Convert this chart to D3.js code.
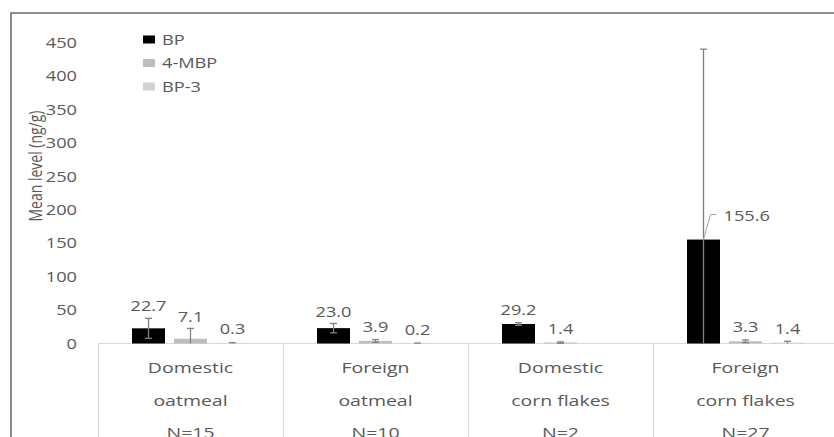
<!DOCTYPE html>
<html>
<head>
<meta charset="utf-8">
<script src="https://cdn.jsdelivr.net/npm/d3@7"></script>
<style>
  body { margin: 0; background: #fff; }
  text { font-family: "Open Sans", sans-serif; fill: #595959; }
</style>
</head>
<body>
<div id="chart"></div>
<script>
const categories = ["Domestic oatmeal", "Foreign oatmeal", "Domestic corn flakes", "Foreign corn flakes"];
const catLines = [["Domestic", "oatmeal", "N=15"], ["Foreign", "oatmeal", "N=10"],
                  ["Domestic", "corn flakes", "N=2"], ["Foreign", "corn flakes", "N=27"]];
const series = ["BP", "4-MBP", "BP-3"];
const bpValues = [22.7, 23.0, 29.2, 155.6];
const mbpValues = [7.1, 3.9, 1.4, 3.3];
const bp3Values = [0.3, 0.2, null, 1.4];
const bpErr = [15, 7, 2, 285];
const mbpErr = [15.5, 2, 1, 2];
const bp3Err = [1, 0.5, null, 2];
const yTicks = [0, 50, 100, 150, 200, 250, 300, 350, 400, 450];
const colors = ["#000000", "#bdbdbd", "#d2d2d2"];
const callout = { series: "BP", cat: "Foreign corn flakes" };

const width = 834, height = 437;
const sx = 1.3; // horizontal stretch of the text
const svg = d3.select("#chart").append("svg")
  .attr("width", width).attr("height", height);

const x0 = d3.scaleBand().domain(categories).range([98, 838]);
const x1 = d3.scaleBand().domain(series).range([0, x0.bandwidth()])
  .paddingInner(9 / 42).paddingOuter(0.81);
const y = d3.scaleLinear().domain([0, 450]).range([343.5, 42.9]);

function txt(g, x, yy, s, anchor, size, rot) {
  return g.append("text")
    .attr("transform", `translate(${x},${yy}) scale(${sx},1)` + (rot ? ` rotate(${rot})` : ""))
    .attr("text-anchor", anchor || "middle")
    .attr("dominant-baseline", "central")
    .style("font-size", (size || 14) + "px")
    .text(s);
}

// frame
svg.append("path").attr("d", `M11,${height} V13 H${width}`)
  .attr("fill", "none").attr("stroke", "#6b6b6b").attr("stroke-width", 1.6);

// y ticks
const yg = svg.append("g");
yTicks.forEach(t => txt(yg, 77, y(t), t, "end", 14));
txt(yg, 35, 166, "Mean level (ng/g)", "middle", 14, -90);

// category axis
const xg = svg.append("g");
xg.append("line").attr("x1", 98).attr("x2", width)
  .attr("y1", y(0)).attr("y2", y(0)).attr("stroke", "#d9d9d9");
categories.forEach((c, i) => {
  xg.append("line").attr("x1", x0(c) + 0.5).attr("x2", x0(c) + 0.5)
    .attr("y1", y(0)).attr("y2", height).attr("stroke", "#d9d9d9");
  catLines[i].forEach((l, j) => txt(xg, x0(c) + x0.bandwidth() / 2, 367 + j * 32.5, l, "middle", 15));
});

// data
const rows = [];
[bpValues, mbpValues, bp3Values].forEach((vals, si) => {
  const errs = [bpErr, mbpErr, bp3Err][si];
  vals.forEach((v, ci) => {
    if (v == null) return;
    rows.push({ s: series[si], si, cat: categories[ci], value: v, err: errs[ci] });
  });
});

const bars = svg.append("g");
bars.selectAll("rect").data(rows).join("rect")
  .attr("x", d => x0(d.cat) + x1(d.s))
  .attr("y", d => y(d.value))
  .attr("width", x1.bandwidth())
  .attr("height", d => y(0) - y(d.value))
  .attr("fill", d => colors[d.si]);

// error bars
const eg = svg.append("g").attr("stroke", "#808080").attr("stroke-width", 1.3);
rows.forEach(d => {
  const cx = x0(d.cat) + x1(d.s) + x1.bandwidth() / 2;
  const top = y(d.value + d.err), bot = y(Math.max(0, d.value - d.err));
  eg.append("line").attr("x1", cx).attr("x2", cx).attr("y1", top).attr("y2", bot);
  eg.append("line").attr("x1", cx - 3.5).attr("x2", cx + 3.5).attr("y1", top).attr("y2", top);
  if (d.value - d.err > 0)
    eg.append("line").attr("x1", cx - 3.5).attr("x2", cx + 3.5).attr("y1", bot).attr("y2", bot);
});

// value labels
const lg = svg.append("g");
rows.forEach(d => {
  const cx = x0(d.cat) + x1(d.s) + x1.bandwidth() / 2;
  if (d.s === callout.series && d.cat === callout.cat) {
    const ly = y(d.value) - 25;
    lg.append("path").attr("d", `M${cx},${y(d.value)} L${cx + 7},${ly} H${cx + 13}`)
      .attr("fill", "none").attr("stroke", "#a6a6a6");
    txt(lg, cx + 20, ly + 1, d.value.toFixed(1), "start", 14);
  } else {
    const ly = Math.min(y(d.value) - 14, y(d.value + d.err) - 12);
    txt(lg, cx, ly, d.value.toFixed(1), "middle", 14);
  }
});

// legend
const leg = svg.append("g");
series.forEach((s, i) => {
  const ly = 39.5 + i * 23.5;
  leg.append("rect").attr("x", 143).attr("y", ly - 4).attr("width", 12).attr("height", 8)
    .attr("fill", colors[i]);
  txt(leg, 162, ly, s, "start", 14);
});
</script>
</body>
</html>
